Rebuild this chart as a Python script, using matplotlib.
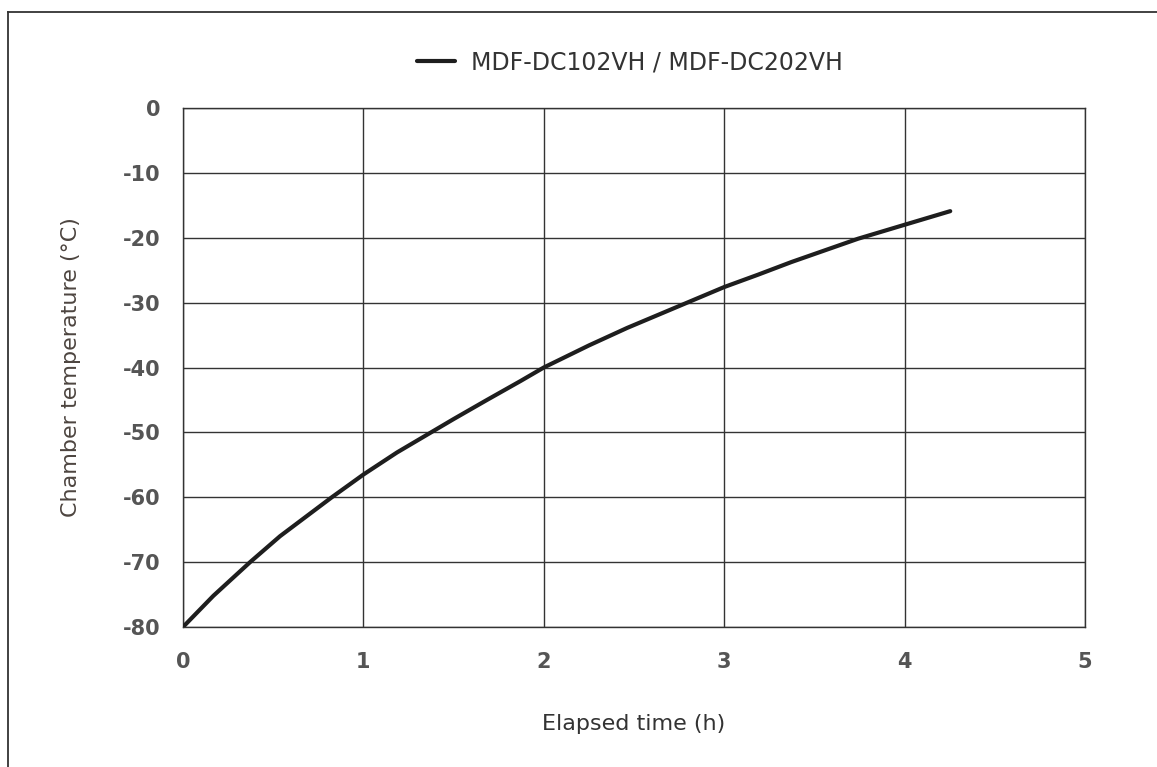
import matplotlib
matplotlib.use("Agg")
import matplotlib.pyplot as plt
from matplotlib.lines import Line2D

# Data
elapsed_h = [0.0, 0.168, 0.372, 0.538, 0.825, 1.0, 1.186, 1.375, 1.5, 1.685,
             1.870, 2.0, 2.25, 2.462, 2.795, 3.0, 3.187, 3.372, 3.742, 4.0, 4.253]
temp_c = [-80.0, -75.2, -70.0, -66.0, -60.0, -56.5, -53.1, -50.0, -47.95, -45.0,
          -42.1, -40.0, -36.6, -33.9, -30.0, -27.6, -25.7, -23.75, -20.15, -18.0, -15.9]
series_label = "MDF-DC102VH / MDF-DC202VH"
x_ticks = [0, 1, 2, 3, 4, 5]
y_ticks = [0, -10, -20, -30, -40, -50, -60, -70, -80]

plt.rcParams['font.family'] = ['DejaVu Sans']

W, H = 1157, 767
fig = plt.figure(figsize=(W / 100, H / 100), dpi=100)
ax = fig.add_axes([183 / W, 1 - 627 / H, (1085 - 183) / W, (627 - 108) / H])

grid_color = "#333333"
ax.plot(elapsed_h, temp_c, color="#1e1e1e", linewidth=3.0, label=series_label,
        solid_capstyle="round", solid_joinstyle="round", zorder=3)

ax.set_xlim(0, 5)
ax.set_ylim(-80, 0)
ax.set_xticks(x_ticks)
ax.set_yticks(y_ticks)
ax.set_xticklabels([str(v) for v in x_ticks])
ax.set_yticklabels([str(v) for v in y_ticks])
ax.grid(True, color=grid_color, linewidth=1.0)
ax.set_axisbelow(True)
for sp in ax.spines.values():
    sp.set_color(grid_color)
    sp.set_linewidth(1.0)

ax.tick_params(axis="both", length=0, labelsize=15, labelcolor="#555555")
ax.tick_params(axis="x", pad=18)
ax.tick_params(axis="y", pad=16)
for lab in ax.get_xticklabels() + ax.get_yticklabels():
    lab.set_fontweight("bold")

ax.set_xlabel("Elapsed time (h)", fontsize=16, color="#333333", labelpad=30)
ax.set_ylabel("Chamber temperature (°C)", fontsize=16, color="#4d4540", labelpad=30)

fig.legend(loc="center", bbox_to_anchor=(630 / W, 1 - 62 / H), frameon=False,
           fontsize=17, handlelength=1.6, handletextpad=0.7,
           labelcolor="#333333")

# outer frame lines (top and left) as in the reference
fig.add_artist(Line2D([8 / W, 1.0], [1 - 11.5 / H, 1 - 11.5 / H],
                      transform=fig.transFigure, color="#333333", linewidth=1.3))
fig.add_artist(Line2D([8 / W, 8 / W], [0.0, 1 - 11.5 / H],
                      transform=fig.transFigure, color="#333333", linewidth=1.3))

fig.savefig("out.png", dpi=100)
